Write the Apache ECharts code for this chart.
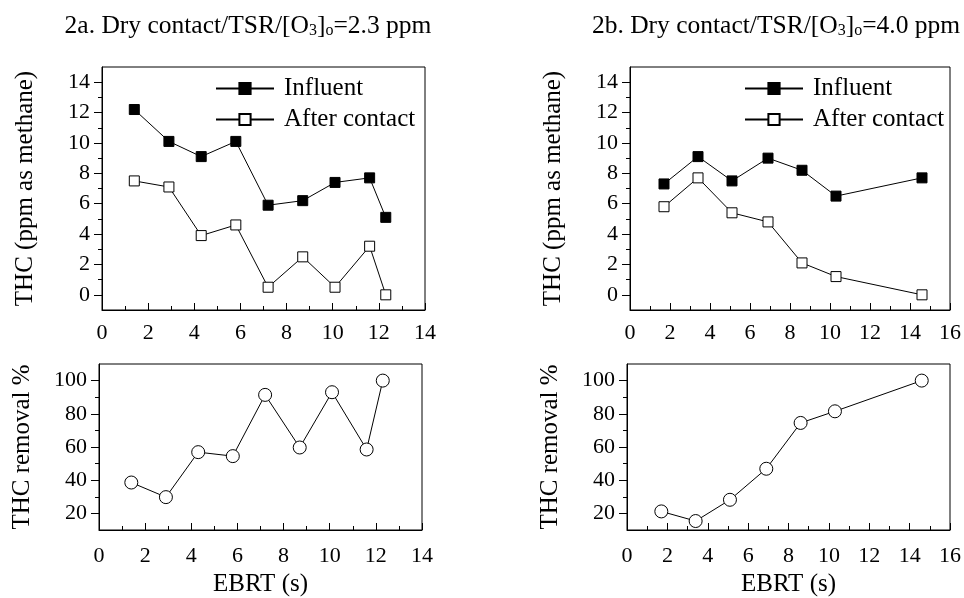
<!DOCTYPE html>
<html>
<head>
<meta charset="utf-8">
<script src="https://cdn.jsdelivr.net/npm/echarts@6/dist/echarts.min.js"></script>
<style>
  html, body { margin: 0; padding: 0; background: #fff; }
  #chart { width: 964px; height: 598px; }
</style>
</head>
<body>
<div id="chart"></div>
<script>
// 2a: [O3]o = 2.3 ppm
const ebrtA     = [1.4, 2.9, 4.3, 5.8, 7.2, 8.7, 10.1, 11.6, 12.3]
const influentA = [12.2, 10.1, 9.1, 10.1, 5.9, 6.2, 7.4, 7.7, 5.1]
const afterA    = [7.5, 7.1, 3.9, 4.6, 0.5, 2.5, 0.5, 3.2, 0.0]
const removalA  = [38.6, 29.8, 56.9, 54.5, 91.4, 59.7, 93.0, 58.5, 100]

// 2b: [O3]o = 4.0 ppm
const ebrtB     = [1.7, 3.4, 5.1, 6.9, 8.6, 10.3, 14.6]
const influentB = [7.3, 9.1, 7.5, 9.0, 8.2, 6.5, 7.7]
const afterB    = [5.8, 7.7, 5.4, 4.8, 2.1, 1.2, 0.0]
const removalB  = [21.2, 15.4, 28.2, 46.9, 74.5, 81.5, 100]

const thcTicks = [0, 2, 4, 6, 8, 10, 12, 14]
const thcMinor = [1, 3, 5, 7, 9, 11, 13]
const remTicks = [20, 40, 60, 80, 100]
const remMinor = [30, 50, 70, 90]

const legendNames = ['Influent', 'After contact']
const titleText = [
  '2a. Dry contact/TSR/[O{s|3}]{s|o}=2.3 ppm',
  '2b. Dry contact/TSR/[O{s|3}]{s|o}=4.0 ppm',
]

const font = 'Liberation Serif'
const black = '#000'

const pts = (xs, ys) => xs.map((x, i) => [x, ys[i]])

const chart = echarts.init(document.getElementById('chart'))

//** layout: top pair (THC), bottom pair (removal) */
const grids = [
  { left: 102, top: 67,  width: 323, height: 243 },
  { left: 630, top: 67,  width: 323, height: 243 },
  { left: 99,  top: 364, width: 323, height: 166 },
  { left: 627, top: 364, width: 323, height: 166 },
].map(g => ({ ...g, show: true, borderColor: black, borderWidth: 1, backgroundColor: 'transparent' }))

const xAxis = (gridIndex, max, bottom) => ({
  type: 'value',
  gridIndex,
  min: 0,
  max,
  interval: 2,
  name: bottom ? 'EBRT (s)' : '',
  nameLocation: 'middle',
  nameGap: 42,
  nameTextStyle: { fontFamily: font, fontSize: 25, color: black },
  axisLine: { onZero: false, lineStyle: { color: black, width: 1 } },
  axisTick: { inside: true, length: 7, lineStyle: { color: black } },
  minorTick: { show: true, splitNumber: 2, length: 4, lineStyle: { color: black } },
  splitLine: { show: false },
  axisLabel: { margin: bottom ? 15 : 12, fontFamily: font, fontSize: 22, color: black },
})

const yMain = (gridIndex, min, max, ticks, name) => ({
  type: 'value',
  gridIndex,
  min,
  max,
  name,
  nameLocation: 'middle',
  nameGap: 64,
  nameTextStyle: { fontFamily: font, fontSize: 25, color: black },
  axisLine: { show: true, onZero: false, lineStyle: { color: black, width: 1 } },
  axisTick: { show: true, length: 8, customValues: ticks, lineStyle: { color: black } },
  axisLabel: { margin: 12, customValues: ticks, fontFamily: font, fontSize: 22, color: black },
  splitLine: { show: false },
})

// second axis only carries the short odd ticks
const yMinor = (gridIndex, min, max, ticks) => ({
  type: 'value',
  gridIndex,
  min,
  max,
  position: 'left',
  axisLine: { show: false, onZero: false },
  axisTick: { show: true, length: 4, customValues: ticks, lineStyle: { color: black } },
  axisLabel: { show: false },
  splitLine: { show: false },
})

const lineSeries = (name, data, xi, yi, fill) => ({
  name,
  type: 'line',
  xAxisIndex: xi,
  yAxisIndex: yi,
  data,
  symbol: 'rect',
  symbolSize: 10,
  lineStyle: { color: black, width: 1 },
  itemStyle: { color: fill, borderColor: black, borderWidth: 1 },
  animation: false,
})

const removalSeries = (data, xi, yi) => ({
  name: 'removal',
  type: 'line',
  xAxisIndex: xi,
  yAxisIndex: yi,
  data,
  symbol: 'circle',
  symbolSize: 13,
  lineStyle: { color: black, width: 1 },
  itemStyle: { color: '#fff', borderColor: black, borderWidth: 1 },
  animation: false,
})

const legend = left => ({
  orient: 'vertical',
  left,
  top: 71,
  data: legendNames,
  itemWidth: 58,
  itemHeight: 14,
  itemGap: 6,
  selectedMode: false,
  textStyle: { fontFamily: font, fontSize: 25, color: black, padding: [0, 0, 0, 5] },
})

const title = (text, x) => ({
  text,
  left: x,
  top: 8,
  textAlign: 'center',
  textStyle: {
    fontFamily: font,
    fontSize: 25.5,
    fontWeight: 'normal',
    color: black,
    rich: {
      s: { fontFamily: font, fontSize: 16, color: black, verticalAlign: 'bottom', lineHeight: 13 },
    },
  },
})

const opt = {
  backgroundColor: '#fff',
  animation: false,
  title: [title(titleText[0], 243), title(titleText[1], 771)],
  legend: [legend(210), legend(739)],
  grid: grids,
  xAxis: [xAxis(0, 14, false), xAxis(1, 16, false), xAxis(2, 14, true), xAxis(3, 16, true)],
  yAxis: [
    yMain(0, -1, 15, thcTicks, 'THC (ppm as methane)'),
    yMinor(0, -1, 15, thcMinor),
    yMain(1, -1, 15, thcTicks, 'THC (ppm as methane)'),
    yMinor(1, -1, 15, thcMinor),
    yMain(2, 10, 110, remTicks, 'THC removal %'),
    yMinor(2, 10, 110, remMinor),
    yMain(3, 10, 110, remTicks, 'THC removal %'),
    yMinor(3, 10, 110, remMinor),
  ],
  series: [
    lineSeries('Influent', pts(ebrtA, influentA), 0, 0, black),
    lineSeries('After contact', pts(ebrtA, afterA), 0, 0, '#fff'),
    lineSeries('Influent', pts(ebrtB, influentB), 1, 2, black),
    lineSeries('After contact', pts(ebrtB, afterB), 1, 2, '#fff'),
    removalSeries(pts(ebrtA, removalA), 2, 4),
    removalSeries(pts(ebrtB, removalB), 3, 6),
  ],
}

chart.setOption(opt)
</script>
</body>
</html>
